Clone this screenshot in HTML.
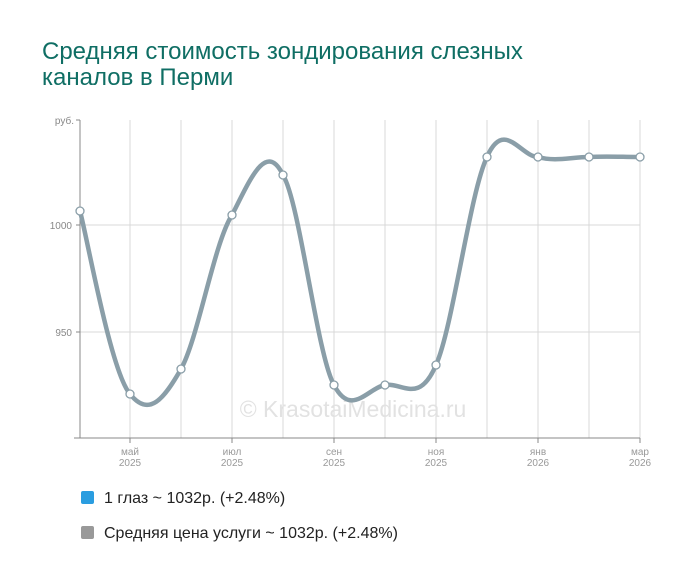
<!DOCTYPE html>
<html><head><meta charset="utf-8"><style>
body{margin:0;background:#fff;width:700px;height:582px;overflow:hidden;font-family:"Liberation Sans",sans-serif}
.t{position:absolute;left:42px;top:39px;font-size:24px;line-height:26px;color:#0f6e64}
.lg{position:absolute;left:81px;font-size:16px;color:#222}
.lg span{display:inline-block;width:13px;height:13px;border-radius:2px;vertical-align:-1px;margin-right:10px}
</style></head><body>
<div class="t">Средняя стоимость зондирования слезных<br>каналов в Перми</div>
<svg width="700" height="582" style="position:absolute;left:0;top:0" font-family="Liberation Sans, sans-serif">
<g stroke="#d8d8d8" stroke-width="1">
<line x1="130" y1="120" x2="130" y2="438"/><line x1="181" y1="120" x2="181" y2="438"/><line x1="232" y1="120" x2="232" y2="438"/><line x1="283" y1="120" x2="283" y2="438"/><line x1="334" y1="120" x2="334" y2="438"/><line x1="385" y1="120" x2="385" y2="438"/><line x1="436" y1="120" x2="436" y2="438"/><line x1="487" y1="120" x2="487" y2="438"/><line x1="538" y1="120" x2="538" y2="438"/><line x1="589" y1="120" x2="589" y2="438"/><line x1="640" y1="120" x2="640" y2="438"/>
<line x1="80" y1="225" x2="640" y2="225"/><line x1="80" y1="332" x2="640" y2="332"/>
</g>
<g stroke="#888" stroke-width="1">
<line x1="80" y1="120" x2="80" y2="438"/><line x1="74" y1="438" x2="640" y2="438"/>
<line x1="76" y1="120" x2="80" y2="120"/><line x1="76" y1="225" x2="80" y2="225"/><line x1="76" y1="332" x2="80" y2="332"/>
<line x1="130" y1="438" x2="130" y2="443"/><line x1="232" y1="438" x2="232" y2="443"/><line x1="334" y1="438" x2="334" y2="443"/><line x1="436" y1="438" x2="436" y2="443"/><line x1="538" y1="438" x2="538" y2="443"/><line x1="640" y1="438" x2="640" y2="443"/>
</g>
<g font-size="10" fill="#888" text-anchor="end">
<text x="74" y="124">руб.</text><text x="72" y="229">1000</text><text x="72" y="336">950</text>
</g>
<g font-size="10" fill="#999" text-anchor="middle">
<text x="130" y="455">май</text><text x="130" y="466">2025</text>
<text x="232" y="455">июл</text><text x="232" y="466">2025</text>
<text x="334" y="455">сен</text><text x="334" y="466">2025</text>
<text x="436" y="455">ноя</text><text x="436" y="466">2025</text>
<text x="538" y="455">янв</text><text x="538" y="466">2026</text>
<text x="640" y="455">мар</text><text x="640" y="466">2026</text>
</g>
<text x="353" y="417" font-size="23" fill="#e2e2e2" text-anchor="middle">© KrasotaiMedicina.ru</text>
<path d="M80,211 C88,241.5 111,372 130,394 C149,418 164,399 181,369 C198,339 214,243 232,215 C250,180 266,140 283,175 C300,203 317,355 334,385 C351,418 368,388 385,385 C402,382 419,405 436,365 C453,327 470,192 487,157 C504,118 521,157 538,157 C555,162 572,157 589,157 C606,156 623,157 640,157" fill="none" stroke="#8a9ea8" stroke-width="4.5"/>
<g fill="#fff" stroke="#8a9ea8" stroke-width="1.3">
<circle cx="80" cy="211" r="4"/><circle cx="130" cy="394" r="4"/><circle cx="181" cy="369" r="4"/><circle cx="232" cy="215" r="4"/><circle cx="283" cy="175" r="4"/><circle cx="334" cy="385" r="4"/><circle cx="385" cy="385" r="4"/><circle cx="436" cy="365" r="4"/><circle cx="487" cy="157" r="4"/><circle cx="538" cy="157" r="4"/><circle cx="589" cy="157" r="4"/><circle cx="640" cy="157" r="4"/>
</g>
</svg>
<div class="lg" style="top:490px"><span style="background:#2a9de0"></span>1 глаз ~ 1032р. (+2.48%)</div>
<div class="lg" style="top:525px"><span style="background:#999"></span>Средняя цена услуги ~ 1032р. (+2.48%)</div>
</body></html>
